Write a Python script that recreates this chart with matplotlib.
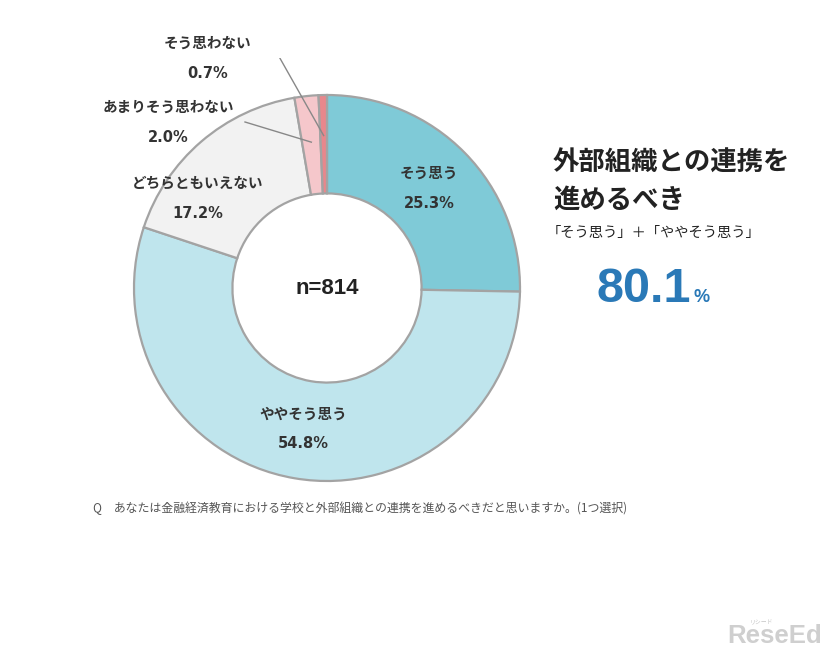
import numpy as np
import matplotlib
matplotlib.use("Agg")
import matplotlib.pyplot as plt

plt.rcParams['font.family'] = ['Noto Sans CJK JP', 'DejaVu Sans']

categories = ["そう思う", "ややそう思う", "どちらともいえない", "あまりそう思わない", "そう思わない"]
values = [25.3, 54.8, 17.2, 2.0, 0.7]
colors = ["#7fcad7", "#bfe5ed", "#f2f2f2", "#f5c7cb", "#e8878c"]
n_label = "n=814"
title_lines = ["外部組織との連携を", "進めるべき"]
subtitle = "「そう思う」＋「ややそう思う」"
summary_value = values[0] + values[1]
question = "Q　あなたは金融経済教育における学校と外部組織との連携を進めるべきだと思いますか。(1つ選択)"

W, H = 826, 652
fig = plt.figure(figsize=(W / 100, H / 100), dpi=100)
fig.patch.set_facecolor("white")

cx, cy, R = 327, 288, 193
half = 230
ax = fig.add_axes([(cx - half) / W, (H - cy - half) / H, 2 * half / W, 2 * half / H])

wedges, _ = ax.pie(values, colors=colors, startangle=90, counterclock=False,
                   radius=1.0, wedgeprops=dict(width=0.51, edgecolor="#a3a3a3", linewidth=1.6))
lim = half / R
ax.set_xlim(-lim, lim)
ax.set_ylim(-lim, lim)
ax.set_aspect("equal")
ax.axis("off")

def px(x, y):
    return (x - cx) / R, (cy - y) / R

cum = np.cumsum([0] + values)
mid = 90 - (cum[:-1] + np.array(values) / 2) * 3.6
cat_kw = dict(ha="center", va="center", fontsize=10.5, fontweight="bold", color="#333333")
pct_kw = dict(ha="center", va="center", fontsize=10.5, fontweight="bold", color="#333333",
              family=["DejaVu Sans", "Noto Sans CJK JP"])

label_pos = [None, None, px(198, 198), px(168, 122), px(208, 58)]
label_r = [0.74, 0.74]
for i, (cat, v) in enumerate(zip(categories, values)):
    if label_pos[i] is None:
        a = np.deg2rad(mid[i])
        x, y = label_r[i] * np.cos(a), label_r[i] * np.sin(a)
    else:
        x, y = label_pos[i]
    ax.text(x, y + 0.078, cat, **cat_kw)
    ax.text(x, y - 0.078, f"{v:.1f}%", **pct_kw)

# leader lines for small slices
for i, (start, end_r) in zip([3, 4], [(px(245, 122), 0.76), (px(277, 53), 0.79)]):
    a = np.deg2rad(mid[i])
    ax.plot([start[0], end_r * np.cos(a)], [start[1], end_r * np.sin(a)],
            color="#888888", linewidth=1.0)

ax.text(0, 0, n_label, ha="center", va="center", fontsize=16, fontweight="bold",
        color="#222222", family=["Liberation Sans", "DejaVu Sans"])

# right-side summary
fig.text(553 / W, 1 - 163 / H, title_lines[0], ha="left", va="center",
         fontsize=19, fontweight="bold", color="#222222")
fig.text(553 / W, 1 - 200 / H, title_lines[1], ha="left", va="center",
         fontsize=19, fontweight="bold", color="#222222")
fig.text(547 / W, 1 - 233 / H, subtitle, ha="left", va="center",
         fontsize=10.3, color="#222222")
fig.text(596 / W, 1 - 302 / H, f"{summary_value:.1f}", ha="left", va="baseline",
         fontsize=35, fontweight="bold", color="#2a79b7",
         family=["Liberation Sans", "DejaVu Sans"])
fig.text(694 / W, 1 - 302 / H, "%", ha="left", va="baseline",
         fontsize=13, fontweight="bold", color="#2a79b7",
         family=["Liberation Sans", "DejaVu Sans"])

fig.text(93 / W, 1 - 508 / H, question, ha="left", va="center",
         fontsize=8.6, color="#555555")

# watermark
fig.text(727 / W, 1 - 643 / H, "ReseEd", ha="left", va="baseline",
         fontsize=18.5, fontweight="bold", color="#cfcfcf",
         family=["Liberation Sans", "DejaVu Sans"])
fig.text(750 / W, 1 - 624 / H, "リシード", ha="left", va="baseline",
         fontsize=4.2, color="#c4c4c4")

fig.savefig("out.png", dpi=100, facecolor="white")
